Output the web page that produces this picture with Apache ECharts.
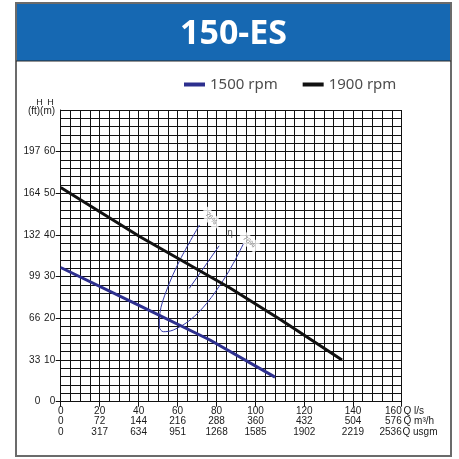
<!DOCTYPE html>
<html>
<head>
<meta charset="utf-8">
<style>
  html, body { margin: 0; padding: 0; background: #ffffff; }
  #chart { width: 459px; height: 459px; }
</style>
<script src="https://cdn.jsdelivr.net/npm/echarts@6/dist/echarts.min.js"></script>
</head>
<body>
<div id="chart"></div>
<script>
// ---- tick labels ----
const qLs   = [0, 20, 40, 60, 80, 100, 120, 140, 160];
const qM3h  = [0, 72, 144, 216, 288, 360, 432, 504, 576];
const qUsgm = [0, 317, 634, 951, 1268, 1585, 1902, 2219, 2536];
const hM    = [0, 10, 20, 30, 40, 50, 60];
const hFt   = [0, 33, 66, 99, 132, 164, 197];

// ---- curves (Q in l/s, H in m) ----
const rpm1500Q = [0, 40.7, 76.6, 108.0];
const rpm1500H = [32.2, 23.0, 14.8, 5.9];
const rpm1900Q = [0, 40.7, 86.9, 110.0, 135.5];
const rpm1900H = [51.4, 39.6, 27.3, 19.8, 10.0];

// efficiency loop (76%)
const eta76Q = [71.2, 61.2, 54.4, 50.9, 50.6, 52.7, 57.8, 66.4, 74.9, 83.5, 88.6, 94.1];
const eta76H = [42.4, 34.0, 26.8, 21.2, 18.0, 16.8, 17.2, 19.6, 23.6, 29.2, 33.2, 38.2];
// inner efficiency line
const etaInnerQ = [66.0, 81.3];
const etaInnerH = [27.2, 37.4];

// efficiency annotations
const etaLabelText = ['76%', '76%', 'η'];
const etaLabelQ    = [77.2, 96.7, 86.9];
const etaLabelH    = [44.0, 38.4, 40.5];
const etaLabelRot  = [-48, -40, 0];

// The printed Q scale: 5 l/s per grid cell up to 100 l/s, 4 l/s per cell above.
function qToX(q) { return q <= 100 ? q / 5 : 20 + (q - 100) / 4; }
const xTickPos = qLs.map(qToX);

function pairs(qs, hs) { return qs.map((q, i) => [qToX(q), hs[i]]); }

const FONT = '"Liberation Sans", Arial, sans-serif';
const chart = echarts.init(document.getElementById('chart'), null, { renderer: 'canvas' });

const annData = etaLabelText.map((t, i) => {
  const isEta = t === 'η';
  return {
    value: [qToX(etaLabelQ[i]), etaLabelH[i]],
    label: {
      show: true, formatter: t, position: 'inside', rotate: etaLabelRot[i],
      color: isEta ? '#333' : '#6a6a6a', fontSize: isEta ? 10 : 7, fontFamily: FONT,
      backgroundColor: isEta ? 'transparent' : '#ffffff', padding: isEta ? 0 : [2, 4]
    }
  };
});

const gridLine = { show: true, lineStyle: { color: '#111111', width: 1 } };

const option = {
  animation: false,
  backgroundColor: '#ffffff',
  grid: { left: 60.7, right: 57.3, top: 110, bottom: 57.3, containLabel: false },
  legend: {
    data: ['1500 rpm', '1900 rpm'],
    left: 179, top: 72,
    icon: 'rect', itemWidth: 21, itemHeight: 4, itemGap: 25,
    textStyle: { color: '#4d4d4d', fontSize: 15, fontFamily: '"Noto Sans", sans-serif' }
  },
  xAxis: [
    { type: 'value', min: 0, max: 35, interval: 1, position: 'bottom',
      axisLine: { show: true, onZero: false, lineStyle: { color: '#111111', width: 1 } },
      axisTick: { show: false }, axisLabel: { show: false }, splitLine: gridLine },
    { type: 'value', min: 0, max: 35, interval: 1, position: 'bottom', offset: 0,
      axisLine: { show: false, onZero: false },
      splitLine: { show: false },
      axisTick: { show: true, customValues: xTickPos, length: 5, lineStyle: { color: '#111111' } },
      axisLabel: {
        show: true, customValues: xTickPos, margin: 4, alignMaxLabel: 'right',
        fontSize: 10, lineHeight: 10.5, color: '#1a1a1a', fontFamily: FONT,
        formatter: function (v) {
          const i = xTickPos.findIndex(t => Math.abs(t - v) < 1e-6);
          if (i < 0) return '';
          return qLs[i] + '\n' + qM3h[i] + '\n' + qUsgm[i];
        }
      } }
  ],
  yAxis: [
    { type: 'value', min: 0, max: 70, interval: 2, position: 'left',
      axisLine: { show: true, onZero: false, lineStyle: { color: '#111111', width: 1 } },
      axisTick: { show: false }, axisLabel: { show: false }, splitLine: gridLine },
    { type: 'value', min: 0, max: 70, interval: 2, position: 'left', offset: 0,
      axisLine: { show: false, onZero: false }, splitLine: { show: false },
      axisTick: { show: true, customValues: hM, length: 5, lineStyle: { color: '#111111' } },
      axisLabel: { show: true, customValues: hM, margin: 5.5, fontSize: 10, color: '#1a1a1a', fontFamily: FONT,
        formatter: v => String(v) } },
    { type: 'value', min: 0, max: 70, interval: 2, position: 'left', offset: 0,
      axisLine: { show: false, onZero: false }, splitLine: { show: false },
      axisTick: { show: false },
      axisLabel: { show: true, customValues: hM, margin: 20.5, fontSize: 10, color: '#1a1a1a', fontFamily: FONT,
        formatter: function (v) { const i = hM.indexOf(v); return i < 0 ? '' : String(hFt[i]); } } }
  ],
  series: [
    { name: '1500 rpm', type: 'line', xAxisIndex: 0, yAxisIndex: 0, data: pairs(rpm1500Q, rpm1500H),
      symbol: 'none', lineStyle: { color: '#2d2f8e', width: 3 }, itemStyle: { color: '#2d2f8e' }, z: 5 },
    { name: '1900 rpm', type: 'line', xAxisIndex: 0, yAxisIndex: 0, data: pairs(rpm1900Q, rpm1900H),
      symbol: 'none', lineStyle: { color: '#111111', width: 3 }, itemStyle: { color: '#111111' }, z: 5 },
    { name: 'eta76', type: 'line', xAxisIndex: 0, yAxisIndex: 0, data: pairs(eta76Q, eta76H), smooth: 0.35,
      symbol: 'none', lineStyle: { color: '#3438a6', width: 1 }, z: 4 },
    { name: 'etaInner', type: 'line', xAxisIndex: 0, yAxisIndex: 0, data: pairs(etaInnerQ, etaInnerH),
      symbol: 'none', lineStyle: { color: '#3438a6', width: 1 }, z: 4 },
    { name: 'etaLabels', type: 'scatter', xAxisIndex: 0, yAxisIndex: 0, data: annData,
      symbolSize: 1, itemStyle: { color: 'rgba(0,0,0,0)' }, z: 6,
      labelLayout: { hideOverlap: false } }
  ],
  graphic: [
    { type: 'rect', shape: { x: 16, y: 3, width: 435, height: 453 }, style: { fill: 'none', stroke: '#6b6b6b', lineWidth: 2 }, z: 10, silent: true },
    { type: 'rect', shape: { x: 16, y: 3, width: 435, height: 58 }, style: { fill: '#1668b2' }, z: 9, silent: true },
    { type: 'line', shape: { x1: 16, y1: 61, x2: 451, y2: 61 }, style: { stroke: '#2a2a2a', lineWidth: 1 }, z: 10, silent: true },
    { type: 'text', x: 233.5, y: 34.5, z: 11, silent: true,
      style: { text: '150-ES', fill: '#ffffff', fontSize: 34, fontWeight: 'bold', fontFamily: '"Noto Sans", sans-serif', align: 'center', verticalAlign: 'middle' } },
    { type: 'text', x: 39.5, y: 102.5, z: 11, silent: true,
      style: { text: 'H', fill: '#1a1a1a', fontSize: 9, fontFamily: FONT, align: 'center', verticalAlign: 'middle' } },
    { type: 'text', x: 50.5, y: 102.5, z: 11, silent: true,
      style: { text: 'H', fill: '#1a1a1a', fontSize: 9, fontFamily: FONT, align: 'center', verticalAlign: 'middle' } },
    { type: 'text', x: 41.5, y: 111.5, z: 11, silent: true,
      style: { text: '(ft)(m)', fill: '#1a1a1a', fontSize: 10, fontFamily: FONT, align: 'center', verticalAlign: 'middle' } },
    { type: 'text', x: 403.5, y: 411, z: 11, silent: true,
      style: { text: 'Q l/s', fill: '#1a1a1a', fontSize: 10, fontFamily: FONT, align: 'left', verticalAlign: 'middle' } },
    { type: 'text', x: 403.5, y: 421.5, z: 11, silent: true,
      style: { text: 'Q m³/h', fill: '#1a1a1a', fontSize: 10, fontFamily: FONT, align: 'left', verticalAlign: 'middle' } },
    { type: 'text', x: 402.5, y: 432, z: 11, silent: true,
      style: { text: 'Q usgm', fill: '#1a1a1a', fontSize: 10, fontFamily: FONT, align: 'left', verticalAlign: 'middle' } }
  ]
};
chart.setOption(option);
</script>
</body>
</html>
